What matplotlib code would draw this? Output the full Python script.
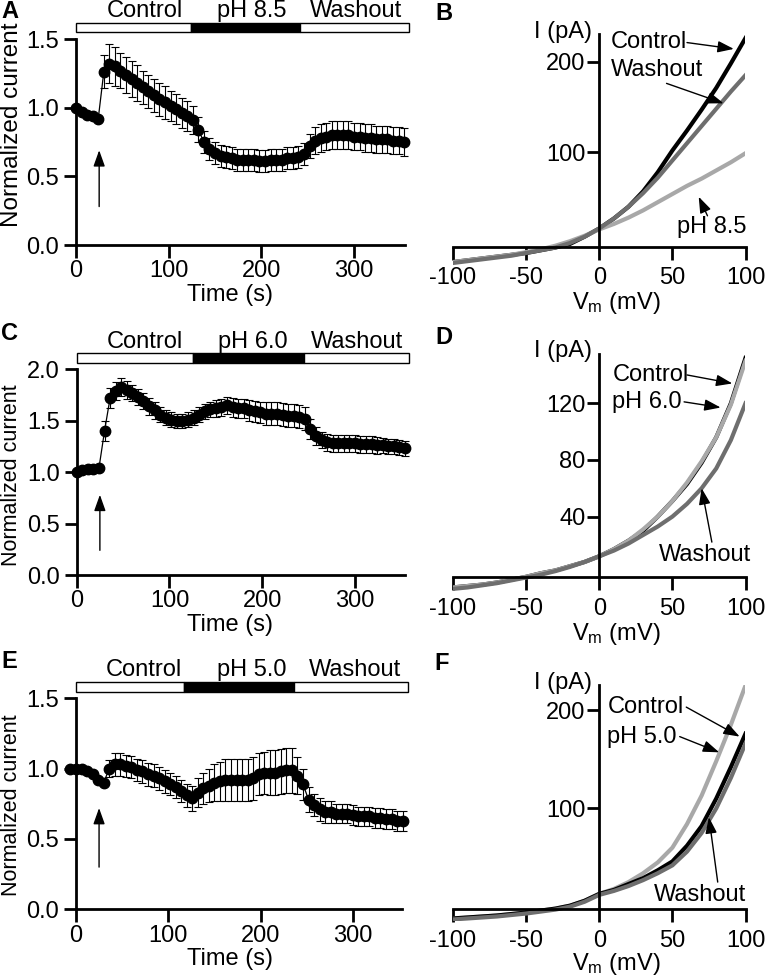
import numpy as np
import matplotlib

matplotlib.use("Agg")
import matplotlib.pyplot as plt
from matplotlib.patches import Rectangle

W, H = 769, 976

# ---------------- time courses: normalized current (mean, SEM) ----------------
t_ac = np.arange(0, 355, 6)    # sampling every 6 s
t_e = np.arange(-6, 355, 6)

mean_a = [1.00, 0.97, 0.95, 0.94, 0.92, 1.26, 1.32, 1.30, 1.27, 1.24,
          1.21, 1.18, 1.15, 1.12, 1.09, 1.06, 1.04, 1.01, 0.99, 0.96,
          0.94, 0.91, 0.84, 0.75, 0.70, 0.67, 0.65, 0.64, 0.63, 0.62,
          0.62, 0.62, 0.62, 0.61, 0.61, 0.62, 0.62, 0.62, 0.63, 0.63,
          0.64, 0.66, 0.72, 0.76, 0.78, 0.79, 0.80, 0.80, 0.80, 0.80,
          0.79, 0.79, 0.78, 0.78, 0.77, 0.77, 0.77, 0.76, 0.76, 0.75]
sem_a = [0.01, 0.01, 0.01, 0.01, 0.01, 0.12, 0.14, 0.14, 0.13, 0.13,
         0.13, 0.13, 0.12, 0.12, 0.12, 0.12, 0.12, 0.11, 0.11, 0.11,
         0.11, 0.10, 0.09, 0.08, 0.08, 0.08, 0.08, 0.08, 0.08, 0.08,
         0.08, 0.08, 0.08, 0.08, 0.08, 0.08, 0.08, 0.08, 0.08, 0.08,
         0.08, 0.08, 0.09, 0.10, 0.10, 0.10, 0.10, 0.10, 0.10, 0.10,
         0.10, 0.10, 0.10, 0.10, 0.10, 0.10, 0.10, 0.10, 0.10, 0.10]

mean_c = [1.00, 1.02, 1.03, 1.03, 1.04, 1.40, 1.72, 1.79, 1.83, 1.80,
          1.77, 1.73, 1.69, 1.64, 1.60, 1.56, 1.53, 1.51, 1.50, 1.50,
          1.51, 1.53, 1.56, 1.59, 1.61, 1.62, 1.63, 1.65, 1.63, 1.62,
          1.62, 1.60, 1.59, 1.58, 1.57, 1.57, 1.57, 1.56, 1.55, 1.55,
          1.54, 1.52, 1.42, 1.35, 1.31, 1.29, 1.28, 1.28, 1.28, 1.28,
          1.28, 1.27, 1.27, 1.27, 1.26, 1.26, 1.25, 1.25, 1.24, 1.23]
sem_c = [0.01, 0.01, 0.01, 0.01, 0.01, 0.10, 0.10, 0.09, 0.09, 0.09,
         0.08, 0.08, 0.08, 0.08, 0.08, 0.07, 0.07, 0.07, 0.07, 0.07,
         0.07, 0.07, 0.07, 0.07, 0.07, 0.08, 0.08, 0.08, 0.09, 0.09,
         0.09, 0.10, 0.10, 0.10, 0.11, 0.11, 0.11, 0.11, 0.11, 0.11,
         0.11, 0.11, 0.10, 0.09, 0.08, 0.08, 0.08, 0.08, 0.08, 0.08,
         0.08, 0.08, 0.08, 0.08, 0.08, 0.07, 0.07, 0.07, 0.07, 0.07]

mean_e = [1.00, 1.00, 1.00, 0.98, 0.96, 0.92, 0.90, 1.00, 1.03, 1.03,
          1.02, 1.01, 0.99, 0.98, 0.96, 0.95, 0.93, 0.91, 0.89, 0.87,
          0.84, 0.81, 0.79, 0.83, 0.86, 0.88, 0.90, 0.91, 0.92, 0.92,
          0.92, 0.92, 0.92, 0.93, 0.96, 0.97, 0.97, 0.97, 0.98, 0.99,
          0.99, 0.95, 0.89, 0.78, 0.74, 0.71, 0.69, 0.69, 0.68, 0.68,
          0.68, 0.67, 0.66, 0.66, 0.66, 0.65, 0.65, 0.64, 0.64, 0.63,
          0.63]
sem_e = [0.01, 0.01, 0.01, 0.01, 0.01, 0.01, 0.01, 0.06, 0.08, 0.08,
         0.08, 0.08, 0.08, 0.08, 0.08, 0.08, 0.08, 0.08, 0.08, 0.08,
         0.08, 0.08, 0.09, 0.10, 0.11, 0.12, 0.13, 0.14, 0.15, 0.15,
         0.15, 0.15, 0.15, 0.15, 0.15, 0.15, 0.16, 0.16, 0.16, 0.16,
         0.16, 0.13, 0.11, 0.09, 0.08, 0.08, 0.08, 0.08, 0.07, 0.07,
         0.07, 0.07, 0.07, 0.07, 0.07, 0.07, 0.07, 0.07, 0.07, 0.07,
         0.07]

# solution bar above each time course: edges (s) of Control / pH / Washout
bar_a = [0, 124, 242, 359]
bar_c = [0, 125, 245, 358]
bar_e = [0, 117, 236, 360]
cond_a = ["Control", "pH 8.5", "Washout"]
cond_c = ["Control", "pH 6.0", "Washout"]
cond_e = ["Control", "pH 5.0", "Washout"]

# ---------------- I-V relations (pA) ----------------
vm = np.arange(-100, 101, 10)

iv_b_control = [-21, -19, -17, -15, -13, -11, -8, -5, -1, 7, 16, 27, 40, 57, 78, 102, 124, 147, 171, 198, 226]
iv_b_washout = [-22, -20, -18, -16, -14, -11, -8, -5, 0, 7, 16, 27, 40, 55, 72, 91, 110, 129, 148, 167, 185]
iv_b_ph = [-21, -19, -17, -15, -13, -10, -7, -3, 2, 8, 15, 21, 28, 36, 45, 54, 63, 71, 80, 89, 99]

iv_d_control = [-10, -9, -8, -6.5, -4.5, -2.5, 0, 2, 5, 8, 12, 17, 23, 30, 40, 51, 63, 78, 96, 120, 152]
iv_d_ph = [-10, -9, -8, -6.5, -4.5, -2.5, 0, 2, 5, 8, 12, 17, 23, 31, 40, 51, 64, 79, 96, 119, 150]
iv_d_washout = [-11, -10, -8.5, -7, -5, -3, -1, 1.5, 4.5, 8, 12, 16, 21, 27, 33, 40, 49, 60, 74, 94, 120]

iv_f_control = [-12, -11, -10, -9, -7.5, -6, -4, -2, 1, 6, 13, 17, 23, 29, 37, 46, 62, 82, 110, 142, 176]
iv_f_ph = [-12, -11, -10, -9, -7.5, -6, -4, -2, 1, 6, 13, 18, 25, 34, 45, 60, 84, 113, 148, 185, 225]
iv_f_washout = [-13, -12, -11, -10, -8.5, -7, -5, -3, 0, 5, 12, 16, 21, 27, 34, 42, 56, 75, 100, 131, 166]

BLACK, DARK, LIGHT = "#000000", "#6e6e6e", "#a8a8a8"

plt.rcParams["font.family"] = ["Liberation Sans", "DejaVu Sans"]
plt.rcParams["mathtext.default"] = "regular"
plt.rcParams["axes.unicode_minus"] = False
plt.rcParams["font.size"] = 17

fig = plt.figure(figsize=(W / 100, H / 100), dpi=100)


def box(l, t, r, b):
    return [l / W, 1 - b / H, (r - l) / W, (b - t) / H]


def fx(x):
    return x / W


def fy(y):
    return 1 - y / H


ARROW = dict(arrowstyle="-|>,head_length=0.7,head_width=0.25", color="black",
             lw=1.0, mutation_scale=14, shrinkA=0, shrinkB=0)


def time_panel(rect, t, mean, sem, xmax, ymax, yticks, bar, conds, bar_y, bar_h,
               text_y, arrow_y):
    ax = fig.add_axes(rect)
    cont = ax.errorbar(t, mean, yerr=sem, fmt="o-", color="black", ms=7.5, lw=0.9,
                       elinewidth=0.8, capsize=3, capthick=0.8)
    for a in [cont[0], *cont[1], *cont[2]]:
        a.set_clip_on(False)
    ax.set_xlim(0, xmax)
    ax.set_ylim(0, ymax)
    ax.set_xticks([0, 100, 200, 300])
    ax.set_yticks(yticks)
    ax.set_yticklabels([f"{v:.1f}" for v in yticks])
    for s in ("top", "right"):
        ax.spines[s].set_visible(False)
    for s in ("left", "bottom"):
        ax.spines[s].set_linewidth(2)
    ax.tick_params(axis="both", width=2, length=9, labelsize=17)
    ax.tick_params(axis="x", pad=2)
    ax.tick_params(axis="y", pad=3)
    colors = ["white", "black", "white"]
    for i in range(3):
        ax.add_patch(Rectangle((bar[i], bar_y), bar[i + 1] - bar[i], bar_h,
                               facecolor=colors[i], edgecolor="black", lw=1,
                               clip_on=False))
    for xc, name in zip([74, 190, 302], conds):
        ax.text(xc, text_y, name, ha="center", va="baseline", fontsize=17)
    ax.annotate("", xy=(25, arrow_y[1]), xytext=(25, arrow_y[0]), arrowprops=ARROW)
    return ax


def iv_panel(rect, ylim, y0, yticks, traces):
    ax = fig.add_axes(rect)
    for y, c in traces:
        ax.plot(vm, y, color=c, lw=3.0, solid_joinstyle="round")
    ax.set_xlim(-100, 100)
    ax.set_ylim(*ylim)
    ax.spines["left"].set_position(("data", 0))
    ax.spines["bottom"].set_position(("data", y0))
    ax.spines["left"].set_bounds(y0, ylim[1])
    for s in ("top", "right"):
        ax.spines[s].set_visible(False)
    for s in ("left", "bottom"):
        ax.spines[s].set_linewidth(2)
    ax.set_xticks([-100, -50, 0, 50, 100])
    ax.set_yticks(yticks)
    ax.tick_params(axis="both", width=2, length=9, labelsize=17)
    ax.tick_params(axis="x", pad=6)
    ax.tick_params(axis="y", pad=1)
    ax.text(-5, ylim[1] + 2, "I (pA)", ha="right", va="center", fontsize=17)
    return ax


# ---- A / C / E ----
time_panel(box(76, 39, 405, 245), t_ac, mean_a, sem_a, 355, 1.5, [0.0, 0.5, 1.0, 1.5],
           bar_a, cond_a, 1.549, 0.070, 1.658, (0.28, 0.69))
time_panel(box(76.7, 369.3, 405, 575), t_ac, mean_c, sem_c, 354, 2.0,
           [0.0, 0.5, 1.0, 1.5, 2.0], bar_c, cond_c, 2.058, 0.097, 2.204, (0.24, 0.78))
time_panel(box(76, 698.3, 401.7, 909.3), t_e, mean_e, sem_e, 353, 1.5,
           [0.0, 0.5, 1.0, 1.5], bar_e, cond_e, 1.547, 0.071, 1.658, (0.30, 0.72))

fig.text(fx(12), fy(125), "Normalized current", rotation=90, ha="center", va="center", fontsize=17.5)
fig.text(fx(12), fy(475), "Normalized current", rotation=90, ha="center", va="center", fontsize=15.5)
fig.text(fx(12), fy(805), "Normalized current", rotation=90, ha="center", va="center", fontsize=15.5)
for yb in (301, 631, 965):
    fig.text(fx(230), fy(yb), "Time (s)", ha="center", va="baseline", fontsize=17)

# ---- B ----
axb = iv_panel(box(453, 33.5, 745.5, 268.4), (-28, 231), -4, [100, 200],
               [(iv_b_control, BLACK), (iv_b_ph, LIGHT), (iv_b_washout, DARK)])
axb.text(8, 222, "Control", ha="left", va="center")
axb.annotate("", xy=(92, 214), xytext=(60, 221), arrowprops=ARROW)
axb.text(8, 191, "Washout", ha="left", va="center")
axb.annotate("", xy=(85, 154), xytext=(46, 176), arrowprops=ARROW)
axb.text(100.5, 18, "pH 8.5", ha="right", va="center")
axb.annotate("", xy=(68, 51), xytext=(74, 30), arrowprops=ARROW)

# ---- D ----
axd = iv_panel(box(453, 353.7, 745.5, 593.1), (-14, 155), -2.5, [40, 80, 120],
               [(iv_d_control, BLACK), (iv_d_ph, LIGHT), (iv_d_washout, DARK)])
axd.text(9, 140, "Control", ha="left", va="center")
axd.annotate("", xy=(91, 134), xytext=(60, 140), arrowprops=ARROW)
axd.text(9, 121, "pH 6.0", ha="left", va="center")
axd.annotate("", xy=(83, 117), xytext=(58, 121), arrowprops=ARROW)
axd.text(104, 13, "Washout", ha="right", va="center")
axd.annotate("", xy=(70, 60), xytext=(77, 22), arrowprops=ARROW)

# ---- F ----
axf = iv_panel(box(453, 684.5, 745.5, 921.4), (-15, 226), -2.6, [100, 200],
               [(iv_f_ph, LIGHT), (iv_f_control, BLACK), (iv_f_washout, DARK)])
axf.text(5.5, 203, "Control", ha="left", va="center")
axf.annotate("", xy=(96, 173), xytext=(59.5, 203), arrowprops=ARROW)
axf.text(5.5, 173, "pH 5.0", ha="left", va="center")
axf.annotate("", xy=(82, 157), xytext=(55, 173), arrowprops=ARROW)
axf.text(100.5, 12, "Washout", ha="right", va="center")
axf.annotate("", xy=(75, 91), xytext=(81, 25), arrowprops=ARROW)

for yb in (309, 640, 970):
    fig.text(fx(616), fy(yb), r"V$_\mathregular{m}$ (mV)", ha="center", va="baseline", fontsize=17)

# panel letters
for x, y, s in [(1, 0, "A"), (435, 2, "B"), (1, 322, "C"), (435, 326, "D"),
                (1, 650, "E"), (434, 652, "F")]:
    fig.text(fx(x), fy(y), s, ha="left", va="top", fontsize=17, fontweight="bold")

fig.savefig("out.png", dpi=100)
